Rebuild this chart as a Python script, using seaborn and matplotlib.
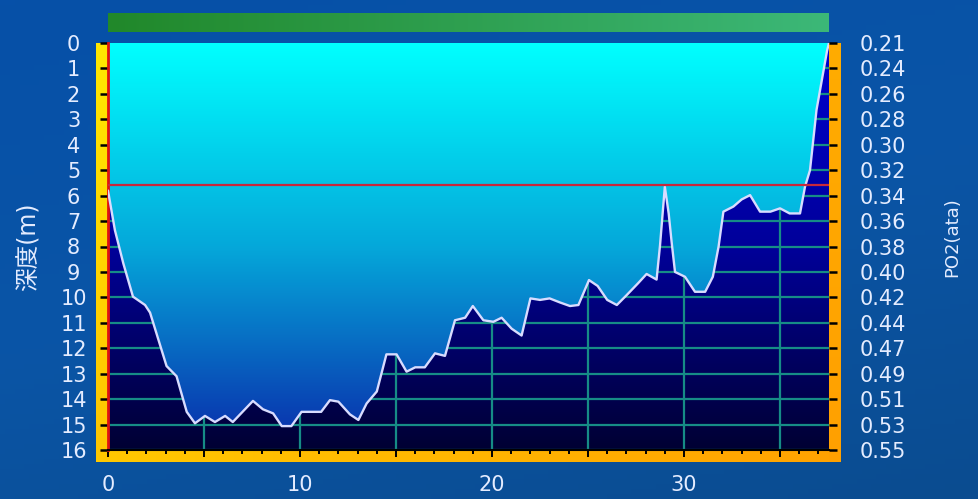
import numpy as np
import matplotlib
matplotlib.use("Agg")
import matplotlib.pyplot as plt
from matplotlib.colors import LinearSegmentedColormap
import seaborn as sns

# dive profile (minutes, metres)
minutes = [0, 0.36, 0.8, 1.3, 1.93, 2.19, 3.05, 3.57, 4.1, 4.53, 5.05, 5.57,
           6.1, 6.5, 7.55, 8.07, 8.6, 9.05, 9.55, 10.08, 11.1, 11.56, 12.0,
           12.6, 13.04, 13.47, 14.0, 14.5, 15.03, 15.55, 16.0, 16.5, 17.03,
           17.55, 18.07, 18.6, 19.0, 19.55, 20.07, 20.5, 21.02, 21.54, 22.0,
           22.5, 23.0, 23.54, 24.06, 24.5, 25.05, 25.5, 26.0, 26.5, 27.0,
           27.6, 28.05, 28.57, 28.75, 29.0, 29.2, 29.36, 29.53, 30.05, 30.57,
           31.1, 31.5, 31.8, 32.05, 32.57, 33.0, 33.44, 33.96, 34.5, 35.0,
           35.5, 36.04, 36.3, 36.56, 36.9, 37.45, 37.55]
depth_m = [5.8, 7.36, 8.67, 9.97, 10.3, 10.6, 12.7, 13.1, 14.5, 14.95, 14.66,
           14.9, 14.66, 14.9, 14.07, 14.4, 14.56, 15.06, 15.06, 14.5, 14.5,
           14.04, 14.1, 14.6, 14.82, 14.17, 13.7, 12.24, 12.24, 12.92, 12.75,
           12.75, 12.2, 12.3, 10.9, 10.8, 10.34, 10.9, 10.96, 10.8, 11.23,
           11.5, 10.04, 10.1, 10.04, 10.2, 10.34, 10.3, 9.32, 9.55, 10.1,
           10.3, 9.92, 9.45, 9.08, 9.3, 7.95, 5.65, 6.7, 7.87, 9.0, 9.19,
           9.78, 9.78, 9.19, 8.0, 6.63, 6.43, 6.15, 5.98, 6.63, 6.63, 6.5,
           6.7, 6.7, 5.65, 5.0, 2.63, 0.3, 0.0]
ref_depth = 5.6
t_end = 37.55
max_depth = 16
depth_ticks = list(range(0, 17))
po2_labels = ["0.21", "0.24", "0.26", "0.28", "0.30", "0.32", "0.34", "0.36",
              "0.38", "0.40", "0.42", "0.44", "0.47", "0.49", "0.51", "0.53",
              "0.55"]
time_major = [0, 5, 10, 15, 20, 25, 30, 35]
time_labels = ["0", "", "10", "", "20", "", "30", ""]
time_minor = list(range(0, 38))

sns.set_style("ticks")
plt.rcParams["font.family"] = ["DejaVu Sans", "Noto Sans CJK JP"]
txt = "#e4ecff"

W, H = 979, 499
fig = plt.figure(figsize=(W / 100, H / 100), dpi=100)


def cmap(cols):
    return LinearSegmentedColormap.from_list("g", cols)


def px(x0, y0, x1, y1):
    return [x0 / W, 1 - y1 / H, (x1 - x0) / W, (y1 - y0) / H]


def bar(rect, cols, horizontal):
    a = fig.add_axes(rect, zorder=0)
    g = np.linspace(0, 1, 256)
    g = g[None, :] if horizontal else g[:, None]
    a.imshow(g, aspect="auto", cmap=cmap(cols), extent=[0, 1, 0, 1])
    a.axis("off")
    return a


# background
bg = fig.add_axes([0, 0, 1, 1], zorder=-10)
yy, xx = np.mgrid[0:1:100j, 0:1:200j]
bg.imshow(0.7 * yy + 0.3 * xx, aspect="auto",
          cmap=cmap(["#0650a8", "#0a55a6", "#0b4c90"]), extent=[0, 1, 0, 1])
bg.axis("off")

# frame bars
bar(px(108, 13, 829, 32), ["#21882a", "#3cb878"], True)
bar(px(96, 43, 108, 462), ["#ffe800", "#ffc400"], False)
bar(px(96, 450, 841, 462), ["#ffc800", "#ffa200"], True)
bar(px(829, 43, 841, 462), ["#ffac00", "#ffa000"], False)

ax = fig.add_axes(px(108, 43, 829, 450), zorder=2)
grad = np.linspace(0, 1, 256)[:, None]
ax.imshow(grad, aspect="auto", extent=[0, t_end, max_depth, 0], zorder=0,
          cmap=cmap(["#0000d0", "#00009a", "#000033"]))
light = ax.imshow(grad, aspect="auto", extent=[0, t_end, max_depth, 0],
                  zorder=1, cmap=cmap(["#00ffff", "#05a8da", "#0a2aaa"]))
poly = ax.fill_between(minutes, 0, depth_m, facecolor="none", edgecolor="none")
light.set_clip_path(poly.get_paths()[0], ax.transData)

sns.lineplot(x=minutes, y=depth_m, ax=ax, color="#d8dcff", lw=1.7,
             zorder=3, sort=False)
ax.axhline(ref_depth, color="#c8283c", lw=1.6, zorder=4)

ax.set_xlim(0, t_end)
ax.set_ylim(max_depth, 0)
ax.set_axisbelow(True)
ax.grid(True, which="major", color="#168c86", lw=1.6)

ax.set_xticks(time_major)
ax.set_xticklabels(time_labels)
ax.set_xticks(time_minor, minor=True)
ax.set_yticks(depth_ticks)
ax.set_yticklabels([str(d) for d in depth_ticks])
for lbl in ax.get_yticklabels():
    lbl.set_ha("center")
ax.tick_params(axis="x", which="major", length=5, width=1.4, color="black",
               pad=13, labelsize=15, labelcolor=txt)
ax.tick_params(axis="x", which="minor", length=3, width=1.4, color="black")
ax.tick_params(axis="y", length=5.8, width=1.8, color="black", pad=19,
               labelsize=15, labelcolor=txt)
for s in ["top", "right"]:
    ax.spines[s].set_visible(False)
ax.spines["left"].set_color("#e01010")
ax.spines["left"].set_linewidth(2)
ax.spines["bottom"].set_color("black")
ax.spines["bottom"].set_linewidth(1.5)
ax.set_xlabel("")
ax.set_ylabel("深度(m)", color=txt, fontsize=17)
ax.yaxis.set_label_coords(-0.093, 0.5)

ax2 = ax.twinx()
ax2.set_zorder(3)
ax2.set_ylim(max_depth, 0)
ax2.set_yticks(depth_ticks)
ax2.set_yticklabels(po2_labels)
ax2.tick_params(axis="y", length=5.8, width=1.8, color="black", pad=16.5,
                labelsize=15, labelcolor=txt)
for s in ax2.spines.values():
    s.set_visible(False)
ax2.set_ylabel("PO2(ata)", color=txt, fontsize=13)
ax2.yaxis.set_label_coords(1.158, 0.523)

fig.savefig("out.png", dpi=100)
